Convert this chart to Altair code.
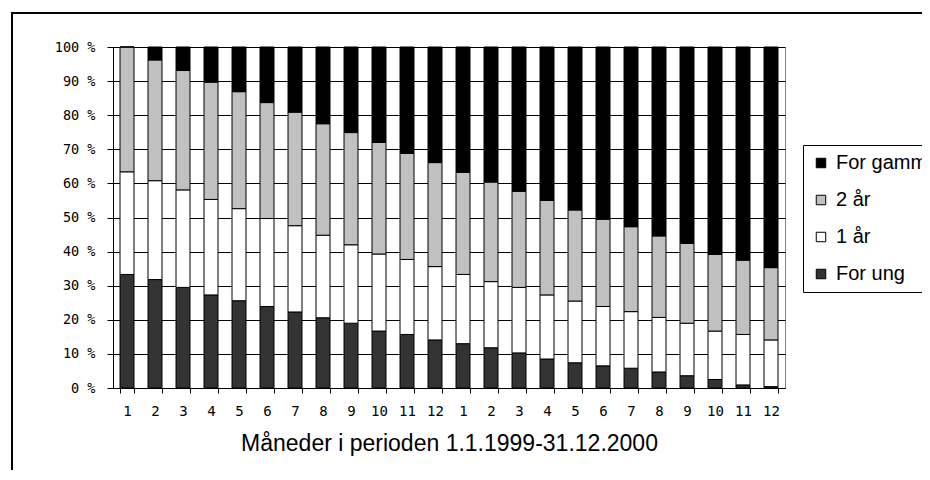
import altair as alt
import pandas as pd

# Month labels (two years)
months = ["1", "2", "3", "4", "5", "6", "7", "8", "9", "10", "11", "12",
          "1", "2", "3", "4", "5", "6", "7", "8", "9", "10", "11", "12"]

# Shares in percent
for_ung = [33.3, 31.8, 29.5, 27.3, 25.6, 23.9, 22.3, 20.6, 19.0, 16.7, 15.7, 14.1,
           13.0, 11.8, 10.3, 8.5, 7.4, 6.5, 5.8, 4.7, 3.6, 2.5, 0.9, 0.4]
aar1 = [30.1, 29.0, 28.6, 28.0, 27.0, 25.8, 25.3, 24.2, 23.0, 22.6, 22.0, 21.5,
        20.3, 19.4, 19.2, 18.8, 18.1, 17.4, 16.6, 16.0, 15.4, 14.2, 14.8, 13.7]
aar2 = [36.6, 35.4, 35.0, 34.4, 34.3, 34.0, 33.3, 32.7, 32.9, 32.7, 31.1, 30.5,
        29.9, 29.2, 28.2, 27.7, 26.7, 25.6, 24.9, 23.9, 23.4, 22.5, 21.8, 21.2]
for_gammel = [0.0, 3.8, 6.9, 10.3, 13.1, 16.3, 19.1, 22.5, 25.1, 28.0, 31.2, 33.9,
              36.8, 39.6, 42.3, 45.0, 47.8, 50.5, 52.7, 55.4, 57.6, 60.8, 62.5, 64.7]

series = ["For ung", "1 år", "2 år", "For gammel"]
values = [for_ung, aar1, aar2, for_gammel]
legend_order = ["For gammel", "2 år", "1 år", "For ung"]
legend_colors = ["#000000", "#c0c0c0", "#ffffff", "#333333"]

rows = []
for s_i, (name, vals) in enumerate(zip(series, values)):
    for p, v in enumerate(vals):
        rows.append({"periode": p, "kategori": name, "verdi": v, "rekke": s_i})
df = pd.DataFrame(rows)

label_expr = "[" + ",".join("'%s'" % m for m in months) + "][datum.value]"

bars = alt.Chart(df).mark_bar(stroke="#000000", strokeWidth=1).encode(
    x=alt.X("periode:O",
            scale=alt.Scale(paddingInner=0.5, paddingOuter=0.25),
            axis=alt.Axis(title="Måneder i perioden 1.1.1999-31.12.2000",
                          labelAngle=0, labelExpr=label_expr,
                          tickBand="extent", tickSize=5, grid=False,
                          labelFont="DejaVu Sans Mono", labelFontSize=14,
                          labelPadding=11,
                          titleFont="Liberation Sans", titleFontSize=23,
                          titleFontWeight="normal", titlePadding=14)),
    y=alt.Y("verdi:Q", stack="normalize",
            scale=alt.Scale(domain=[0, 1], nice=False),
            axis=alt.Axis(title=None,
                          values=[0, 0.1, 0.2, 0.3, 0.4, 0.5, 0.6, 0.7, 0.8, 0.9, 1.0],
                          labelExpr="format(datum.value*100, 'd') + ' %'",
                          grid=True, tickSize=6, labelPadding=12,
                          labelFont="DejaVu Sans Mono", labelFontSize=13.5)),
    color=alt.Color("kategori:N",
                    scale=alt.Scale(domain=legend_order, range=legend_colors),
                    legend=alt.Legend(title=None, orient="none",
                                      legendX=690, legendY=98,
                                      strokeColor="#000000", padding=8,
                                      symbolType="square", symbolSize=90,
                                      symbolStrokeColor="#000000",
                                      symbolStrokeWidth=1,
                                      labelFont="Liberation Sans",
                                      labelFontSize=20, labelOffset=5,
                                      rowPadding=17, labelLimit=300)),
    order=alt.Order("rekke:Q"),
)

border = alt.Chart(pd.DataFrame({"a": [0]})).mark_rect(
    fill=None, stroke="#000000", strokeWidth=2
).encode(
    x=alt.value(-101), x2=alt.value(840),
    y=alt.value(-34), y2=alt.value(520),
)

chart = alt.layer(border, bars).properties(
    width=672, height=341,
    autosize=alt.AutoSizeParams(type="none"),
    padding={"left": 105, "top": 39, "right": 137, "bottom": 82},
).configure_view(
    stroke="#808080", strokeWidth=1
).configure_axis(
    domainColor="#000000", tickColor="#000000", gridColor="#000000",
    labelColor="#000000", titleColor="#000000", gridWidth=1
).configure_legend(
    labelColor="#000000"
)

chart.save("out.html", embed_options={"renderer": "svg", "actions": False})
